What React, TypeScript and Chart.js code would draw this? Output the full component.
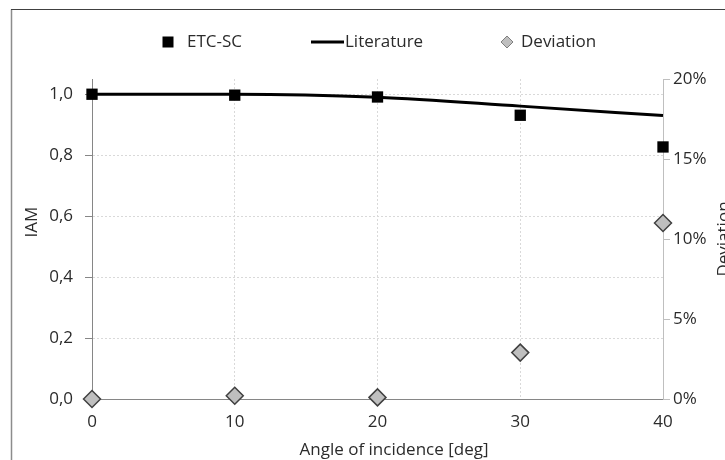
import React, { useEffect, useRef } from "react";
import { Chart, registerables } from "chart.js";

Chart.register(...registerables);

const angles = [0, 10, 20, 30, 40];
const etcSc = [1.0, 0.997, 0.991, 0.931, 0.827];
const literature = [1.0, 1.0, 0.99, 0.961, 0.93];
const deviation = [0, 0.002, 0.001, 0.029, 0.11];

const xTicks = [0, 10, 20, 30, 40];
const xTickLabels = ["0", "10", "20", "30", "40"];
const iamTicks = [0, 0.2, 0.4, 0.6, 0.8, 1.0];
const iamTickLabels = ["0,0", "0,2", "0,4", "0,6", "0,8", "1,0"];
const devTicks = [0, 0.05, 0.1, 0.15, 0.2];
const devTickLabels = ["0%", "5%", "10%", "15%", "20%"];

const seriesNames = ["ETC-SC", "Literature", "Deviation"];
const xTitle = "Angle of incidence [deg]";
const yTitle = "IAM";
const y2Title = "Deviation";

const W = 725;
const H = 460;
const FONT = "'Open Sans', Lato, sans-serif";
const FS = 17;
const TEXT = "#2b2b2b";

const overlay = {
  id: "overlay",
  beforeDraw(chart: any) {
    const ctx = chart.ctx;
    ctx.save();
    ctx.fillStyle = "#ffffff";
    ctx.fillRect(0, 0, W, H);
    ctx.strokeStyle = "#8c8c8c";
    ctx.lineWidth = 1.5;
    ctx.beginPath();
    ctx.moveTo(11.5, H);
    ctx.lineTo(11.5, 9.5);
    ctx.stroke();
    ctx.strokeStyle = "#404040";
    ctx.lineWidth = 1;
    ctx.beginPath();
    ctx.moveTo(11, 9.5);
    ctx.lineTo(W, 9.5);
    ctx.stroke();
    ctx.restore();
  },
  afterDraw(chart: any) {
    const ctx = chart.ctx;
    ctx.save();
    ctx.font = `${FS}px ${FONT}`;
    ctx.fillStyle = TEXT;
    ctx.textBaseline = "middle";
    ctx.textAlign = "left";
    const ly = 42;
    // legend: ETC-SC
    ctx.fillStyle = "#000";
    ctx.fillRect(168 - 5.5, ly - 5.5, 11, 11);
    ctx.fillStyle = TEXT;
    ctx.fillText(seriesNames[0], 187, ly);
    // Literature
    ctx.strokeStyle = "#000";
    ctx.lineWidth = 3;
    ctx.beginPath();
    ctx.moveTo(311, ly);
    ctx.lineTo(344, ly);
    ctx.stroke();
    ctx.fillText(seriesNames[1], 345, ly);
    // Deviation
    ctx.beginPath();
    ctx.moveTo(507, ly - 6);
    ctx.lineTo(513, ly);
    ctx.lineTo(507, ly + 6);
    ctx.lineTo(501, ly);
    ctx.closePath();
    ctx.fillStyle = "#bfbfbf";
    ctx.fill();
    ctx.strokeStyle = "#7f7f7f";
    ctx.lineWidth = 1;
    ctx.stroke();
    ctx.fillStyle = TEXT;
    ctx.fillText(seriesNames[2], 521, ly);

    // axis titles
    ctx.textAlign = "center";
    ctx.fillText(xTitle, 394, 450);
    ctx.save();
    ctx.translate(32, 222);
    ctx.rotate(-Math.PI / 2);
    ctx.fillText(yTitle, 0, 0);
    ctx.restore();
    ctx.save();
    ctx.translate(724, 239);
    ctx.rotate(-Math.PI / 2);
    ctx.fillText(y2Title, 0, 0);
    ctx.restore();
    ctx.restore();
  },
};

export default function App() {
  const ref = useRef<HTMLCanvasElement>(null);
  useEffect(() => {
    if (!ref.current) return;
    const chart = new Chart(ref.current, {
      type: "line",
      data: {
        datasets: [
          {
            label: seriesNames[0],
            data: angles.map((a, i) => ({ x: a, y: etcSc[i] })),
            showLine: false,
            pointStyle: "rect",
            pointRadius: 8,
            pointBackgroundColor: "#000",
            pointBorderColor: "#000",
            pointBorderWidth: 0,
            yAxisID: "y",
            clip: false,
            order: 0,
          },
          {
            label: seriesNames[1],
            data: angles.map((a, i) => ({ x: a, y: literature[i] })),
            borderColor: "#000",
            borderWidth: 3,
            pointRadius: 0,
            cubicInterpolationMode: "monotone",
            fill: false,
            yAxisID: "y",
            clip: false,
            order: 2,
          },
          {
            label: seriesNames[2],
            data: angles.map((a, i) => ({ x: a, y: deviation[i] })),
            showLine: false,
            pointStyle: "rectRot",
            pointRadius: 8.5,
            pointBackgroundColor: "#bfbfbf",
            pointBorderColor: "#404040",
            pointBorderWidth: 1.5,
            yAxisID: "y2",
            clip: false,
            order: 1,
          },
        ],
      },
      options: {
        responsive: false,
        animation: false,
        devicePixelRatio: 1,
        layout: { padding: { top: 79, left: 0, right: 0, bottom: 0 } },
        plugins: {
          legend: { display: false },
          title: { display: false },
          tooltip: { enabled: false },
        },
        scales: {
          x: {
            type: "linear",
            min: 0,
            max: 40,
            afterBuildTicks: (s: any) => {
              s.ticks = xTicks.map((v) => ({ value: v }));
            },
            afterFit: (s: any) => {
              s.height = H - 399;
            },
            ticks: {
              padding: 13,
              color: TEXT,
              font: { family: FONT, size: FS },
              maxRotation: 0,
              callback: (_v: any, i: number) => xTickLabels[i],
            },
            grid: {
              drawTicks: false,
              color: (c: any) =>
                c.tick && (c.tick.value === 0 || c.tick.value === 40)
                  ? "rgba(0,0,0,0)"
                  : "#d9d9d9",
              lineWidth: 1,
            },
            border: { display: true, color: "#868686", width: 1, dash: [2, 2] },
          },
          y: {
            type: "linear",
            position: "left",
            min: 0,
            max: 1.05,
            afterBuildTicks: (s: any) => {
              s.ticks = iamTicks.map((v) => ({ value: v }));
            },
            afterFit: (s: any) => {
              s.width = 92;
            },
            ticks: {
              padding: 12,
              color: TEXT,
              font: { family: FONT, size: FS },
              callback: (_v: any, i: number) => iamTickLabels[i],
            },
            grid: {
              drawTicks: true,
              tickLength: 7,
              tickColor: "#868686",
              color: (c: any) =>
                c.tick && c.tick.value === 0 ? "rgba(0,0,0,0)" : "#d9d9d9",
              lineWidth: 1,
            },
            border: { display: true, color: "#868686", width: 1, dash: [2, 2] },
          },
          y2: {
            type: "linear",
            position: "right",
            min: 0,
            max: 0.2,
            afterBuildTicks: (s: any) => {
              s.ticks = devTicks.map((v) => ({ value: v }));
            },
            afterFit: (s: any) => {
              s.width = W - 663;
            },
            ticks: {
              padding: 3,
              color: TEXT,
              font: { family: FONT, size: FS },
              callback: (_v: any, i: number) => devTickLabels[i],
            },
            grid: {
              drawOnChartArea: false,
              drawTicks: true,
              tickLength: 7,
              tickColor: "#bfbfbf",
            },
            border: { display: true, color: "#bfbfbf", width: 1 },
          },
        },
      },
      plugins: [overlay],
    } as any);
    return () => chart.destroy();
  }, []);
  return (
    <div
      style={{
        position: "fixed",
        left: 0,
        top: 0,
        width: W,
        height: H,
        overflow: "hidden",
      }}
    >
      <canvas ref={ref} width={W} height={H} style={{ display: "block", width: W, height: H }} />
    </div>
  );
}
